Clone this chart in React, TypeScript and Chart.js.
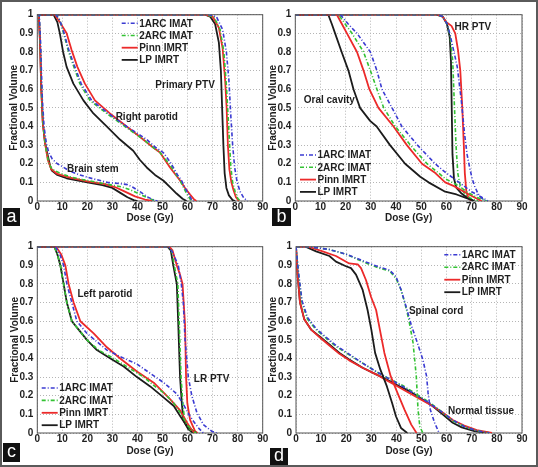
import React, { useEffect, useRef } from "react";
import { Chart, registerables } from "chart.js";

Chart.register(...registerables);

type Pt = [number, number];

// ---- shared ----
const PLANS = ["1ARC IMAT", "2ARC IMAT", "Pinn IMRT", "LP IMRT"];
const PLAN_COLORS = ["#3b3bd2", "#33c233", "#ec2a2a", "#1c1c1c"];
const PLAN_DASH = [[4, 2, 1, 2], [4, 2, 1, 2], [], []];
const PLAN_WIDTH = [1.6, 1.6, 1.8, 1.8];
const DOSE_TICKS = [0, 10, 20, 30, 40, 50, 60, 70, 80, 90];
const VOL_TICKS = [0, 0.1, 0.2, 0.3, 0.4, 0.5, 0.6, 0.7, 0.8, 0.9, 1];
const X_TITLE = "Dose (Gy)";
const Y_TITLE = "Fractional Volume";

// ---- panel a ----
const aBrainStem1ARC: Pt[] = [[0,1],[0.8,1],[1.3,0.85],[2,0.55],[2.7,0.4],[3.6,0.31],[4.6,0.26],[6,0.225],[8,0.2],[10,0.185],[13,0.16],[17,0.14],[22,0.12],[28,0.1],[33,0.093],[36,0.088],[38,0.075],[41,0.05],[44,0.022],[46.5,0.005],[48,0]];
const aBrainStem2ARC: Pt[] = [[0,1],[0.7,1],[1.2,0.85],[1.8,0.55],[2.4,0.4],[3.3,0.29],[4.6,0.2],[6,0.17],[9,0.15],[13,0.13],[18,0.115],[24,0.1],[30,0.085],[34,0.075],[38,0.055],[42,0.03],[45,0.012],[47.5,0]];
const aBrainStemPinn: Pt[] = [[0,1],[0.6,1],[1.1,0.85],[1.6,0.6],[2.2,0.42],[3.1,0.31],[4.2,0.22],[5.6,0.17],[8,0.145],[13,0.125],[20,0.105],[27,0.09],[31,0.075],[35,0.05],[39,0.025],[43,0.008],[46,0]];
const aBrainStemLP: Pt[] = [[0,1],[0.6,1],[1.1,0.85],[1.6,0.6],[2.2,0.42],[3,0.32],[3.75,0.27],[5.1,0.19],[5.8,0.163],[8,0.14],[11.7,0.122],[20,0.1],[26,0.085],[30,0.07],[33,0.045],[36,0.02],[38.5,0.005],[40,0]];

const aParotid1ARC: Pt[] = [[0,1],[7.5,1],[9,0.97],[10.7,0.9],[12.8,0.8],[15,0.72],[17.5,0.63],[21.7,0.54],[28.4,0.47],[35.7,0.4],[43.7,0.33],[47,0.29],[50.3,0.26],[53,0.21],[54.3,0.18],[56,0.14],[57.6,0.11],[59,0.07],[60.3,0.04],[61.5,0.01],[62.5,0]];
const aParotid2ARC: Pt[] = [[0,1],[7.5,1],[9,0.97],[10.5,0.9],[12.5,0.8],[14.6,0.72],[17,0.63],[21,0.54],[27.7,0.47],[35,0.4],[42.3,0.33],[46,0.29],[49,0.26],[52,0.21],[53.7,0.18],[55.5,0.14],[57,0.11],[58.5,0.07],[59.6,0.04],[61,0.01],[62,0]];
const aParotidPinn: Pt[] = [[0,1],[7,1],[9,0.96],[11.7,0.9],[13.7,0.81],[16,0.72],[19,0.63],[23,0.54],[29,0.47],[35.7,0.4],[42.3,0.33],[46,0.29],[49,0.26],[53,0.18],[57,0.11],[59,0.07],[61,0.035],[62.5,0.01],[63.5,0]];
const aParotidLP: Pt[] = [[0,1],[6.5,1],[8,0.96],[9,0.9],[10.3,0.8],[11.7,0.72],[14.4,0.63],[18.4,0.54],[22.4,0.47],[27.7,0.4],[33,0.33],[38.3,0.27],[41,0.22],[43.7,0.18],[47,0.14],[50.3,0.11],[53,0.075],[55.6,0.04],[58,0.012],[59.6,0]];

const aPTV1ARC: Pt[] = [[0,1],[68.5,1],[71.5,0.99],[74,0.92],[75.5,0.8],[76.5,0.65],[77.3,0.45],[78,0.3],[78.8,0.18],[79.8,0.1],[81,0.05],[82.5,0.015],[84,0]];
const aPTV2ARC: Pt[] = [[0,1],[67,1],[70.5,0.99],[73,0.92],[74.5,0.8],[75.5,0.62],[76.2,0.45],[76.8,0.3],[77.3,0.18],[78,0.1],[79,0.05],[80,0.015],[81,0]];
const aPTVPinn: Pt[] = [[0,1],[67,1],[70,0.99],[72.5,0.93],[74,0.82],[75,0.65],[75.6,0.5],[76.1,0.3],[76.7,0.17],[77.5,0.1],[78.3,0.06],[79.3,0.02],[80.5,0]];
const aPTVLP: Pt[] = [[0,1],[67,1],[69,0.99],[71,0.95],[72.5,0.85],[73.3,0.7],[73.8,0.5],[74.3,0.3],[74.8,0.15],[75.5,0.07],[76.5,0.03],[78,0.005],[79,0]];

// ---- panel b ----
const bOral1ARC: Pt[] = [[0,1],[17.9,1],[21,0.95],[24.5,0.9],[29.8,0.8],[32.4,0.7],[34.4,0.6],[38.4,0.5],[42.3,0.4],[48.5,0.3],[52,0.25],[55.5,0.2],[59,0.16],[63,0.12],[67,0.08],[70,0.05],[74,0.02],[76.5,0]];
const bOral2ARC: Pt[] = [[0,1],[17.2,1],[19.8,0.95],[22.5,0.9],[27.1,0.8],[29.8,0.7],[32.4,0.6],[35.1,0.5],[39.7,0.4],[45.7,0.3],[52.3,0.2],[56.9,0.15],[59.5,0.12],[65,0.08],[68,0.05],[72,0.02],[76,0]];
const bOralPinn: Pt[] = [[0,1],[16.5,1],[18.5,0.95],[20.5,0.9],[24.5,0.8],[27.1,0.7],[29.4,0.6],[33,0.5],[39,0.4],[44.3,0.3],[50.3,0.2],[55.6,0.15],[59.5,0.1],[63,0.08],[67,0.05],[71,0.02],[74,0]];
const bOralLP: Pt[] = [[0,1],[13.1,1],[14.5,0.95],[15.8,0.9],[18.4,0.8],[21.1,0.7],[23.1,0.6],[25.7,0.5],[29.7,0.43],[32.3,0.4],[37.6,0.3],[43.6,0.2],[49.6,0.13],[52.9,0.1],[59.5,0.05],[64,0.035],[68,0.015],[71,0]];

const bPTV1ARC: Pt[] = [[0,1],[56.5,1],[58.5,0.99],[60.3,0.95],[61.3,0.9],[63,0.8],[64.3,0.72],[65.9,0.54],[67.2,0.36],[68.2,0.25],[69.2,0.18],[70.2,0.12],[71.2,0.08],[72.5,0.04],[74,0.015],[75.5,0]];
const bPTV2ARC: Pt[] = [[0,1],[56,1],[58.5,0.99],[60.3,0.95],[61.5,0.88],[62.5,0.75],[63.2,0.5],[63.8,0.3],[64.5,0.15],[65.5,0.08],[67.2,0.04],[69.5,0.015],[72.5,0]];
const bPTVPinn: Pt[] = [[0,1],[56.5,1],[58.5,0.99],[60,0.96],[62,0.94],[63.5,0.9],[64.6,0.81],[65.5,0.7],[66.3,0.5],[66.9,0.3],[67.3,0.15],[67.9,0.05],[68.8,0.015],[70,0]];
const bPTVLP: Pt[] = [[0,1],[56,1],[58.5,0.99],[60.2,0.95],[61.3,0.88],[61.8,0.75],[62.1,0.5],[62.4,0.25],[63,0.12],[64,0.07],[66,0.04],[68,0.02],[71,0]];

// ---- panel c ----
const cParotid1ARC: Pt[] = [[0,1],[7.2,1],[9,0.96],[10.5,0.9],[11.8,0.8],[13.8,0.7],[15.8,0.6],[19.8,0.535],[27.8,0.445],[33.1,0.41],[39.8,0.37],[45.1,0.32],[50.5,0.27],[55.7,0.21],[58.5,0.15],[60.5,0.1],[62.5,0.06],[64.5,0.025],[66.3,0]];
const cParotid2ARC: Pt[] = [[0,1],[6.8,1],[8,0.96],[9.2,0.9],[10.5,0.8],[11.8,0.7],[13.8,0.6],[16.5,0.555],[19.8,0.5],[24.5,0.445],[30.5,0.4],[36.5,0.35],[42.5,0.3],[47,0.25],[51,0.21],[54.5,0.16],[57.5,0.1],[60,0.04],[62.4,0.01],[63.5,0]];
const cParotidPinn: Pt[] = [[0,1],[7.5,1],[9.5,0.96],[11.2,0.9],[12.5,0.8],[14.5,0.7],[17.2,0.6],[22.5,0.535],[27.8,0.46],[33.1,0.4],[39.8,0.33],[46.5,0.27],[53.1,0.18],[57.1,0.12],[59.8,0.055],[61.5,0.02],[63,0]];
const cParotidLP: Pt[] = [[0,1],[6.8,1],[8,0.96],[9.2,0.9],[10.5,0.8],[11.8,0.7],[13.8,0.6],[16.5,0.555],[19.8,0.5],[23.8,0.445],[29.2,0.4],[34.5,0.357],[39.8,0.3],[45.1,0.25],[50.5,0.19],[54.5,0.145],[57.1,0.09],[59.8,0.035],[62.4,0.01],[63.5,0]];

const cPTV1ARC: Pt[] = [[0,1],[52.5,1],[54,0.97],[56.3,0.9],[57.5,0.8],[58.3,0.7],[59,0.5],[60.3,0.3],[61.7,0.2],[63.7,0.11],[66.3,0.045],[69.6,0.01],[71.6,0]];
const cPTV2ARC: Pt[] = [[0,1],[52.3,1],[53.6,0.98],[54.7,0.9],[56.1,0.8],[56.7,0.58],[57.4,0.3],[58.1,0.16],[58.8,0.07],[60.8,0.02],[62.8,0]];
const cPTVPinn: Pt[] = [[0,1],[52.7,1],[54,0.98],[55.7,0.9],[57,0.85],[58,0.8],[59,0.58],[59.4,0.3],[59.9,0.16],[61,0.07],[63,0.01],[64,0]];
const cPTVLP: Pt[] = [[0,1],[52,1],[53.3,0.98],[54.3,0.9],[55.7,0.8],[56.3,0.58],[57,0.3],[57.7,0.16],[58.3,0.07],[60.3,0.02],[62.3,0]];

// ---- panel d ----
const dCord1ARC: Pt[] = [[0,1],[5.3,1],[13.3,0.985],[19.9,0.96],[26.5,0.925],[33.2,0.89],[37.2,0.875],[39.8,0.84],[41.8,0.77],[43.8,0.68],[46,0.575],[48.3,0.485],[50.5,0.395],[52,0.305],[52.6,0.215],[53.5,0.125],[55.2,0.055],[57,0]];
const dCord2ARC: Pt[] = [[0,1],[5.3,1],[13.3,0.985],[19.9,0.96],[26.5,0.92],[33.2,0.885],[37.2,0.87],[39.8,0.83],[41.8,0.77],[43.3,0.7],[44.9,0.61],[46.6,0.485],[47.9,0.305],[48.6,0.125],[49.3,0.035],[50.5,0]];
const dCordPinn: Pt[] = [[0,1],[5,1],[10.6,0.975],[15.9,0.95],[21.2,0.91],[24.6,0.905],[25.9,0.885],[27.9,0.82],[29.9,0.73],[31.9,0.66],[33.4,0.555],[35.2,0.43],[37.7,0.305],[40.4,0.215],[43.2,0.125],[45.9,0.045],[48,0]];
const dCordLP: Pt[] = [[0,1],[3.8,1],[8,0.975],[13.3,0.95],[15.9,0.92],[19.9,0.895],[21.9,0.885],[23.9,0.85],[26.5,0.77],[28.5,0.66],[30,0.555],[31.5,0.43],[33.6,0.34],[36.2,0.25],[38.3,0.16],[39.8,0.09],[41.8,0.027],[44.3,0]];

const dNormal1ARC: Pt[] = [[0,1],[1.1,0.85],[2.4,0.71],[4.6,0.62],[8,0.56],[11.9,0.515],[15.9,0.47],[19.9,0.435],[26.5,0.375],[31.9,0.33],[37.2,0.29],[42.5,0.25],[47.8,0.205],[53.1,0.16],[58.4,0.11],[62.4,0.07],[67,0.035],[72,0.012],[77,0]];
const dNormal2ARC: Pt[] = [[0,1],[1.1,0.84],[2.4,0.7],[4.6,0.61],[8,0.555],[11.9,0.51],[15.9,0.465],[19.9,0.43],[26.5,0.375],[31.9,0.33],[37.2,0.29],[42.5,0.255],[47.8,0.21],[53.1,0.165],[58.4,0.11],[62.4,0.065],[67,0.035],[72,0.012],[77,0]];
const dNormalPinn: Pt[] = [[0,1],[0.7,0.84],[1.6,0.7],[3.3,0.61],[6,0.555],[9.3,0.515],[13.3,0.47],[17.3,0.425],[21.2,0.39],[26.5,0.35],[31.9,0.315],[35.8,0.285],[39.8,0.255],[45.1,0.215],[50.4,0.175],[54.4,0.145],[58.4,0.11],[62.4,0.07],[67,0.04],[72,0.015],[78,0]];
const dNormalLP: Pt[] = [[0,1],[0.7,0.84],[1.6,0.7],[3.3,0.61],[6,0.555],[9.3,0.52],[13.3,0.475],[17.3,0.43],[21.2,0.395],[26.5,0.35],[31.9,0.315],[35.8,0.29],[39.8,0.26],[45.1,0.225],[50.4,0.18],[54.4,0.145],[58.4,0.1],[62.4,0.055],[66,0.03],[71,0.01],[77,0]];

// ---- annotations (text, dose, volume) ----
const aLabels: [string, number, number][] = [["Primary PTV", 59, 0.62], ["Right parotid", 43.7, 0.45], ["Brain stem", 22.2, 0.17]];
const bLabels: [string, number, number][] = [["HR PTV", 70.5, 0.93], ["Oral cavity", 13.5, 0.54]];
const cLabels: [string, number, number][] = [["Left parotid", 27, 0.745], ["LR PTV", 69.6, 0.29]];
const dLabels: [string, number, number][] = [["Spinal cord", 55.8, 0.653], ["Normal tissue", 73.7, 0.118]];

const FONT = "'Liberation Sans', Arial, Helvetica, sans-serif";
const TEXT = "#1e1e1e";

type PanelCfg = {
  tag: string;
  box: { left: number; top: number; width: number; height: number };
  area: { left: number; right: number; top: number; bottom: number };
  yTitlePad: number;
  xTitlePad: number;
  curves: Pt[][][];
  labels: [string, number, number][];
  legend: { dx: number; dy: number; step: number };
  tagBox: { left: number; top: number; width: number; height: number };
};

const PANELS: PanelCfg[] = [
  {
    tag: "a",
    box: { left: 0, top: 0, width: 268, height: 232 },
    area: { left: 37.3, right: 262.7, top: 14.7, bottom: 201 },
    yTitlePad: 8, xTitlePad: 8,
    curves: [[aBrainStem1ARC, aBrainStem2ARC, aBrainStemPinn, aBrainStemLP], [aParotid1ARC, aParotid2ARC, aParotidPinn, aParotidLP], [aPTV1ARC, aPTV2ARC, aPTVPinn, aPTVLP]],
    labels: aLabels,
    legend: { dx: 84.4, dy: 8.6, step: 12.2 },
    tagBox: { left: 3, top: 208, width: 17, height: 18 },
  },
  {
    tag: "b",
    box: { left: 262, top: 0, width: 276, height: 232 },
    area: { left: 295.3, right: 522, top: 14.7, bottom: 201 },
    yTitlePad: 5.5, xTitlePad: 8,
    curves: [[bOral1ARC, bOral2ARC, bOralPinn, bOralLP], [bPTV1ARC, bPTV2ARC, bPTVPinn, bPTVLP]],
    labels: bLabels,
    legend: { dx: 4.7, dy: 140.3, step: 12.3 },
    tagBox: { left: 272, top: 208, width: 19, height: 18 },
  },
  {
    tag: "c",
    box: { left: 0, top: 232, width: 268, height: 235 },
    area: { left: 37.3, right: 262.7, top: 246.7, bottom: 433 },
    yTitlePad: 9, xTitlePad: 10,
    curves: [[cParotid1ARC, cParotid2ARC, cParotidPinn, cParotidLP], [cPTV1ARC, cPTV2ARC, cPTVPinn, cPTVLP]],
    labels: cLabels,
    legend: { dx: 4.4, dy: 141.3, step: 12.4 },
    tagBox: { left: 3, top: 443, width: 17, height: 19 },
  },
  {
    tag: "d",
    box: { left: 262, top: 232, width: 276, height: 235 },
    area: { left: 296, right: 522, top: 246.7, bottom: 433 },
    yTitlePad: 5.5, xTitlePad: 10,
    curves: [[dCord1ARC, dCord2ARC, dCordPinn, dCordLP], [dNormal1ARC, dNormal2ARC, dNormalPinn, dNormalLP]],
    labels: dLabels,
    legend: { dx: 148.3, dy: 8, step: 12.5 },
    tagBox: { left: 270, top: 448, width: 18, height: 17 },
  },
];

function PanelChart({ cfg }: { cfg: PanelCfg }) {
  const ref = useRef<HTMLCanvasElement | null>(null);
  useEffect(() => {
    if (!ref.current) return;
    const { box, area } = cfg;
    const relLeft = area.left - box.left;
    const relRight = box.width - (area.right - box.left);
    const relTop = area.top - box.top;
    const relBottom = box.height - (area.bottom - box.top);

    const datasets: any[] = [];
    cfg.curves.forEach((group) => {
      group.forEach((pts, i) => {
        datasets.push({
          label: PLANS[i],
          data: pts.map(([x, y]) => ({ x, y })),
          borderColor: PLAN_COLORS[i],
          borderWidth: PLAN_WIDTH[i],
          borderDash: PLAN_DASH[i],
          borderJoinStyle: "round",
          pointRadius: 0,
          fill: false,
          tension: 0,
        });
      });
    });

    const tickFont = { family: FONT, size: 10, weight: "bold" as const };
    const titleFont = { family: FONT, size: 10, weight: "bold" as const };

    const framePlugin = {
      id: "frame",
      beforeDatasetsDraw(chart: any) {
        const { ctx, chartArea: ca } = chart;
        ctx.save();
        ctx.strokeStyle = "#555";
        ctx.lineWidth = 1;
        ctx.strokeRect(ca.left, ca.top, ca.right - ca.left, ca.bottom - ca.top);
        ctx.restore();
      },
      afterDatasetsDraw(chart: any) {
        const { ctx, chartArea: ca, scales } = chart;
        ctx.save();
        ctx.font = `bold 10px ${FONT}`;
        ctx.fillStyle = TEXT;
        ctx.textAlign = "center";
        ctx.textBaseline = "middle";
        cfg.labels.forEach(([t, x, y]) => {
          ctx.fillText(t, scales.x.getPixelForValue(x), scales.y.getPixelForValue(y));
        });
        const lx = ca.left + cfg.legend.dx;
        PLANS.forEach((name, i) => {
          const ly = ca.top + cfg.legend.dy + i * cfg.legend.step;
          ctx.beginPath();
          ctx.setLineDash(PLAN_DASH[i]);
          ctx.strokeStyle = PLAN_COLORS[i];
          ctx.lineWidth = PLAN_WIDTH[i];
          ctx.moveTo(lx, ly);
          ctx.lineTo(lx + 16, ly);
          ctx.stroke();
          ctx.setLineDash([]);
          ctx.textAlign = "left";
          ctx.fillStyle = TEXT;
          ctx.fillText(name, lx + 17.5, ly + 0.5);
        });
        ctx.restore();
      },
    };

    const chart = new Chart(ref.current, {
      type: "line",
      data: { datasets },
      options: {
        animation: false,
        responsive: false,
        maintainAspectRatio: false,
        devicePixelRatio: 1,
        layout: { padding: { left: 0, right: relRight, top: relTop, bottom: 0 } },
        plugins: { legend: { display: false }, tooltip: { enabled: false } },
        scales: {
          x: {
            type: "linear",
            min: 0,
            max: 90,
            afterBuildTicks: (s: any) => { s.ticks = DOSE_TICKS.map((v) => ({ value: v })); },
            afterFit: (s: any) => { s.height = relBottom; s.paddingLeft = 0; s.paddingRight = 0; },
            ticks: { font: tickFont, color: TEXT, padding: 0, maxRotation: 0, autoSkip: false, callback: (v: any) => String(v) },
            grid: { color: "#b5b5b5", lineWidth: 1, drawTicks: false },
            border: { display: false, dash: [1, 2] },
            title: { display: true, text: X_TITLE, font: titleFont, color: TEXT, padding: { top: 0, bottom: cfg.xTitlePad } },
          },
          y: {
            type: "linear",
            min: 0,
            max: 1,
            afterBuildTicks: (s: any) => { s.ticks = VOL_TICKS.map((v) => ({ value: v })); },
            afterFit: (s: any) => { s.width = relLeft; s.paddingTop = 0; s.paddingBottom = 0; },
            ticks: {
              font: tickFont, color: TEXT, padding: 4, autoSkip: false,
              callback: (v: any) => (v === 0 ? "0" : v === 1 ? "1" : Number(v).toFixed(1)),
            },
            grid: { color: "#b5b5b5", lineWidth: 1, drawTicks: false },
            border: { display: false, dash: [1, 2] },
            title: { display: true, text: Y_TITLE, font: titleFont, color: TEXT, padding: { top: cfg.yTitlePad, bottom: 0 } },
          },
        },
      } as any,
      plugins: [framePlugin],
    });
    return () => chart.destroy();
  }, [cfg]);

  const { box } = cfg;
  return (
    <canvas
      ref={ref}
      width={box.width}
      height={box.height}
      style={{ position: "absolute", left: box.left, top: box.top, width: box.width, height: box.height }}
    />
  );
}

export default function App() {
  return (
    <div
      style={{
        position: "fixed", left: 0, top: 0, width: 538, height: 467, background: "#fff", overflow: "hidden",
      }}
    >
      {PANELS.map((p) => (
        <PanelChart key={p.tag} cfg={p} />
      ))}
      {PANELS.map((p) => (
        <div
          key={"tag" + p.tag}
          style={{
            position: "absolute", left: p.tagBox.left, top: p.tagBox.top, width: p.tagBox.width, height: p.tagBox.height,
            background: "#111", color: "#fff", fontFamily: "'Liberation Sans', Arial, sans-serif", fontSize: 18,
            lineHeight: p.tagBox.height - 2 + "px", textAlign: "center",
          }}
        >
          {p.tag}
        </div>
      ))}
      <div
        style={{
          position: "absolute", left: 0, top: 0, width: 538, height: 467, boxSizing: "border-box",
          border: "2px solid #5a5a5a", pointerEvents: "none",
        }}
      />
    </div>
  );
}
